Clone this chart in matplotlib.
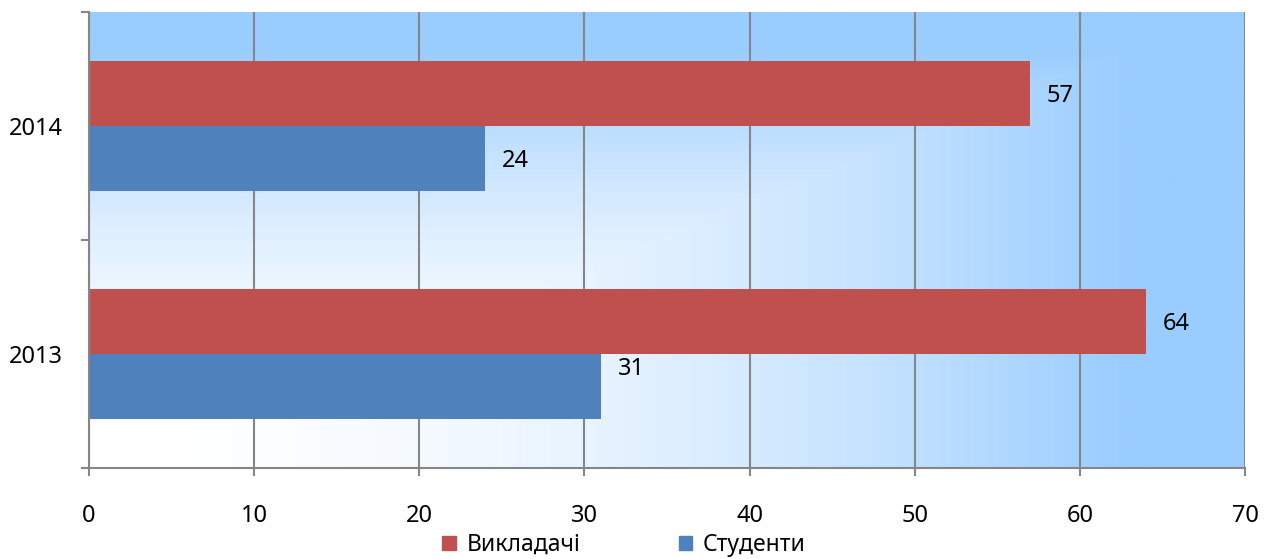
import numpy as np
import matplotlib.pyplot as plt
from matplotlib.patches import Patch

# data
years = ['2013', '2014']
students = [31, 24]      # Студенти
teachers = [64, 57]      # Викладачі
series_names = ['Викладачі', 'Студенти']
x_ticks = [0, 10, 20, 30, 40, 50, 60, 70]

RED = '#C0504D'
BLUE = '#4F81BD'
GRID = '#868686'

plt.rcParams['font.family'] = ['Noto Sans', 'DejaVu Sans']
plt.rcParams['font.size'] = 17

fig = plt.figure(figsize=(12.76, 5.59), dpi=100)
ax = fig.add_axes([89 / 1276, 1 - 468 / 559, (1245 - 89) / 1276, (468 - 12) / 559])

# gradient background: white at bottom-left corner, light blue towards top and right
nx, ny = 400, 200
gx = np.linspace(0, 1, nx)
gy = np.linspace(0, 1, ny)
GX, GY = np.meshgrid(gx, gy)
t = np.clip(np.maximum(GX / 0.9, GY / 0.92), 0, 1) ** 2
c0 = np.array([1.0, 1.0, 1.0])
c1 = np.array([0x99, 0xCC, 0xFF]) / 255
img = c0[None, None, :] * (1 - t[..., None]) + c1[None, None, :] * t[..., None]
ax.imshow(img, extent=[0, 70, -0.5, 1.5], origin='lower', aspect='auto', zorder=0)

y = np.arange(len(years))
h = 1 / 1.75 / 2
bars_s = ax.barh(y - h / 2, students, height=h, color=BLUE, zorder=3)
bars_t = ax.barh(y + h / 2, teachers, height=h, color=RED, zorder=3)

# value labels, the 31 sits a bit higher in the original
label_dy = {('s', 0): 13}
for key, bars, vals in [('s', bars_s, students), ('t', bars_t, teachers)]:
    for i, (b, v) in enumerate(zip(bars, vals)):
        ax.annotate(str(v), (v, b.get_y() + b.get_height() / 2),
                    xytext=(12, label_dy.get((key, i), -2)), textcoords='offset points',
                    ha='left', va='center', fontsize=17, zorder=4)

ax.set_xlim(0, 70)
ax.set_ylim(-0.5, 1.5)
ax.set_xticks(x_ticks)
ax.xaxis.grid(True, color=GRID, linewidth=1.5, zorder=1)
ax.set_axisbelow(False)
for gl in ax.get_xgridlines():
    gl.set_zorder(1)

ax.set_yticks([-0.5, 0.5, 1.5])
ax.set_yticklabels([])
ax.set_yticks(y, minor=True)
ax.set_yticklabels(years, minor=True)
ax.tick_params(axis='y', which='minor', length=0, pad=19)
ax.tick_params(axis='y', which='major', length=6, width=1.5, color=GRID)
ax.tick_params(axis='x', length=6, width=1.5, color=GRID, pad=20)

for s in ['top', 'right']:
    ax.spines[s].set_visible(False)
for s in ['left', 'bottom']:
    ax.spines[s].set_color(GRID)
    ax.spines[s].set_linewidth(1.5)
    ax.spines[s].set_zorder(5)

handles = [Patch(color=RED), Patch(color=BLUE)]
fig.legend(handles, series_names, loc='center', bbox_to_anchor=(0.489, 0.025),
           ncol=2, frameon=False, handlelength=0.6, handleheight=0.6,
           handletextpad=0.45, columnspacing=4.3, fontsize=16.5)

fig.savefig('out.png', dpi=100)
